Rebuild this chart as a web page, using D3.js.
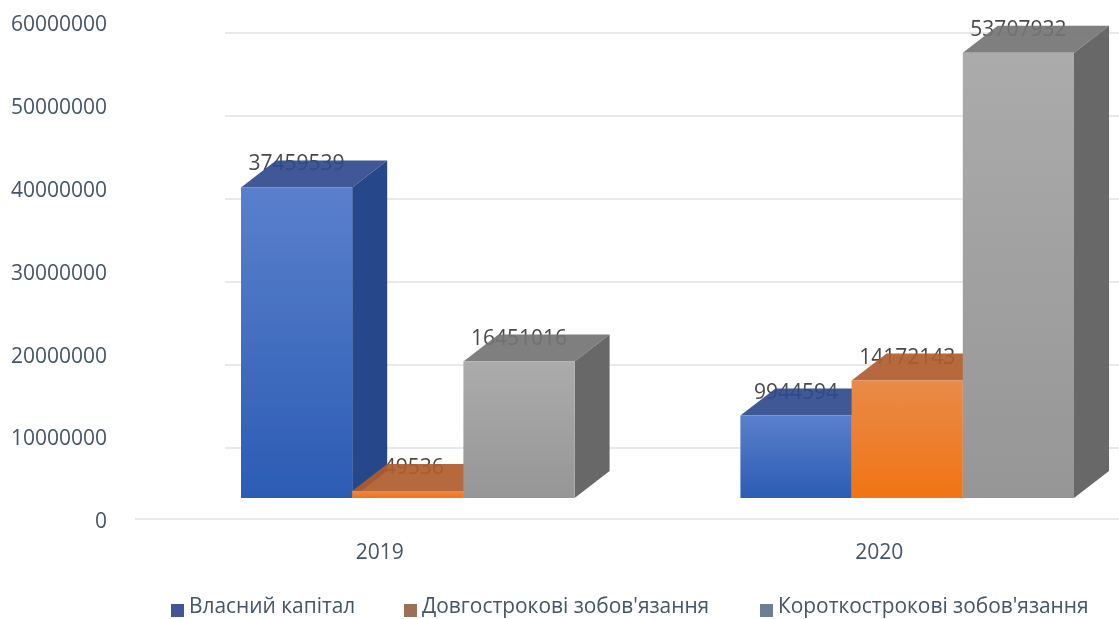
<!DOCTYPE html>
<html>
<head>
<meta charset="utf-8">
<script src="https://cdn.jsdelivr.net/npm/d3@7"></script>
<style>
  html, body { margin: 0; padding: 0; background: #fff; }
  text { font-family: "Open Sans", sans-serif; fill: #44546a; }
  .domain { display: none; }
  .tick line { display: none; }
</style>
</head>
<body>
<svg id="chart" width="1119" height="619"></svg>
<script>
const categories = ['2019', '2020'];
const seriesNames = ['Власний капітал', 'Довгострокові зобов\'язання', 'Короткострокові зобов\'язання'];
const ownCapital = [37459539, 9944594];
const longTerm = [849536, 14172143];
const shortTerm = [16451016, 53707932];
const yTicks = [0, 10000000, 20000000, 30000000, 40000000, 50000000, 60000000];
const allValues = [ownCapital, longTerm, shortTerm];

// front top, front bottom, top face, side face, legend swatch
const colors = [
  ['#5a80cc', '#2c5cb4', '#2f4a8c', '#26478a', '#3f5796'],
  ['#e98a48', '#f07414', '#b05c2c', '#a85c30', '#9c6f57'],
  ['#ababab', '#969696', '#747474', '#686868', '#6c7f96']
];

const svg = d3.select('#chart');
const depthX = 35, depthY = -27;

const defs = svg.append('defs');
defs.append('filter').attr('id', 'soft')
  .attr('filterUnits', 'userSpaceOnUse')
  .attr('x', 0).attr('y', 0)
  .attr('width', 1119).attr('height', 619)
  .append('feGaussianBlur').attr('stdDeviation', 0.5);

const root = svg.append('g').attr('filter', 'url(#soft)');

const x0 = d3.scaleBand().domain(categories).range([241, 1074]).paddingInner(0.332);
const x1 = d3.scaleBand().domain(d3.range(3)).range([0, x0.bandwidth()]);
// bars stand on the front floor edge, the axis and the wall grid are offset from it
const y = d3.scaleLinear().domain([0, 60000000]).range([498, 0.6]);
const yAxisScale = d3.scaleLinear().domain([0, 60000000]).range([521, 24]);
const yGrid = d3.scaleLinear().domain([0, 60000000]).range([531, 33]);

colors.forEach((c, i) => {
  const g = defs.append('linearGradient').attr('id', 'front' + i)
    .attr('x1', 0).attr('y1', 0).attr('x2', 0).attr('y2', 1);
  g.append('stop').attr('offset', 0).attr('stop-color', c[0]);
  g.append('stop').attr('offset', 1).attr('stop-color', c[1]);
});

// grid
root.append('g').selectAll('line')
  .data(yTicks.slice(1))
  .enter().append('line')
  .attr('x1', 225).attr('x2', 1119)
  .attr('y1', d => yGrid(d)).attr('y2', d => yGrid(d))
  .attr('stroke', '#e9e9e9').attr('stroke-width', 2);

root.append('line')
  .attr('x1', 135).attr('x2', 1119)
  .attr('y1', 519).attr('y2', 519)
  .attr('stroke', '#e9e9e9').attr('stroke-width', 2);

// axis
root.append('g')
  .attr('transform', 'translate(107,0)')
  .call(d3.axisLeft(yAxisScale).tickValues(yTicks).tickFormat(d3.format('d')).tickSize(0).tickPadding(0))
  .call(g => g.selectAll('text').style('font-size', '21px').attr('fill', '#44546a'));

// category labels
root.append('g').selectAll('text')
  .data(categories)
  .enter().append('text')
  .attr('x', d => x0(d) + x0.bandwidth() / 2 - 28)
  .attr('y', 559)
  .attr('text-anchor', 'middle')
  .style('font-size', '21px')
  .text(d => d);

// value labels go under the bars, the top faces cover part of them
const barData = [];
allValues.forEach((vals, s) => {
  categories.forEach((c, i) => barData.push({ s, cat: c, value: vals[i] }));
});

root.append('g').selectAll('text')
  .data(barData)
  .enter().append('text')
  .attr('x', d => x0(d.cat) + x1(d.s) + x1.bandwidth() / 2)
  .attr('y', d => y(d.value) + depthY + 10)
  .attr('text-anchor', 'middle')
  .style('font-size', '21px')
  .style('fill', '#4a4a4a')
  .text(d => d.value);

// bars: left to right so the next bar hides the side of the previous one
const bars = root.append('g').selectAll('g')
  .data(barData.slice().sort((a, b) => d3.ascending(a.s, b.s)))
  .enter().append('g');

const pts = a => a.map(p => p.join(',')).join(' ');

bars.append('polygon')
  .attr('points', d => {
    const l = x0(d.cat) + x1(d.s), r = l + x1.bandwidth(), t = y(d.value);
    return pts([[l, t], [r, t], [r + depthX, t + depthY], [l + depthX, t + depthY]]);
  })
  .attr('fill', d => colors[d.s][2])
  .attr('fill-opacity', 0.92);

bars.append('polygon')
  .attr('points', d => {
    const r = x0(d.cat) + x1(d.s) + x1.bandwidth(), t = y(d.value), b = y(0);
    return pts([[r, t], [r + depthX, t + depthY], [r + depthX, b + depthY], [r, b]]);
  })
  .attr('fill', d => colors[d.s][3]);

bars.append('rect')
  .attr('x', d => x0(d.cat) + x1(d.s))
  .attr('y', d => y(d.value))
  .attr('width', x1.bandwidth())
  .attr('height', d => y(0) - y(d.value))
  .attr('fill', d => 'url(#front' + d.s + ')');

// legend
const legendX = [171, 404, 760];
const legend = root.append('g').selectAll('g')
  .data(seriesNames)
  .enter().append('g')
  .attr('transform', (d, i) => 'translate(' + legendX[i] + ',604)');

legend.append('rect')
  .attr('width', 13).attr('height', 13)
  .attr('fill', (d, i) => colors[i][4]);

legend.append('text')
  .attr('x', 18).attr('y', 9)
  .style('font-size', '20.9px')
  .text(d => d);
</script>
</body>
</html>
